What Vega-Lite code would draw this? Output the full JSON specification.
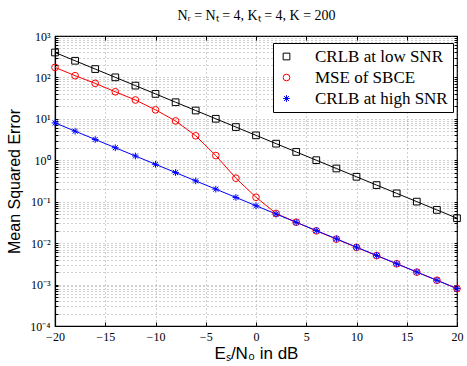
{
  "$schema": "https://vega.github.io/schema/vega-lite/v6.json",
  "width": 402,
  "height": 290,
  "autosize": "none",
  "padding": {"left": 55, "top": 36, "right": 10, "bottom": 40},
  "background": "white",
  "config": {
    "view": {"stroke": "black", "strokeWidth": 1.2},
    "axis": {
      "domainColor": "black", "domainWidth": 1.2, "tickColor": "black", "tickSize": -4, "tickWidth": 1,
      "labelFont": "Liberation Serif", "labelFontSize": 12, "labelColor": "black",
      "labelOverlap": false, "labelBound": false, "labelFlush": false,
      "gridColor": "#666", "gridDash": [1, 3], "gridWidth": 0.6,
      "titleFontWeight": "normal", "titleColor": "black"
    },
    "legend": {
      "title": null, "orient": "none", "legendX": 218, "legendY": 7,
      "fillColor": "white", "strokeColor": "black", "padding": 5,
      "labelFont": "Liberation Serif", "labelFontSize": 17, "labelColor": "black", "labelOffset": 20,
      "symbolSize": 45, "symbolStrokeWidth": 1, "rowPadding": 3, "labelBaseline": "middle"
    }
  },
  "resolve": {"axis": {"x": "independent", "y": "independent"}},
  "data": {"values": [
    {"snr": -20, "mse": 400, "series": "CRLB at low SNR"},
    {"snr": -18, "mse": 252.4, "series": "CRLB at low SNR"},
    {"snr": -16, "mse": 159.2, "series": "CRLB at low SNR"},
    {"snr": -14, "mse": 100.5, "series": "CRLB at low SNR"},
    {"snr": -12, "mse": 63.4, "series": "CRLB at low SNR"},
    {"snr": -10, "mse": 40, "series": "CRLB at low SNR"},
    {"snr": -8, "mse": 25.2, "series": "CRLB at low SNR"},
    {"snr": -6, "mse": 15.9, "series": "CRLB at low SNR"},
    {"snr": -4, "mse": 10.05, "series": "CRLB at low SNR"},
    {"snr": -2, "mse": 6.34, "series": "CRLB at low SNR"},
    {"snr": 0, "mse": 4, "series": "CRLB at low SNR"},
    {"snr": 2, "mse": 2.52, "series": "CRLB at low SNR"},
    {"snr": 4, "mse": 1.59, "series": "CRLB at low SNR"},
    {"snr": 6, "mse": 1.005, "series": "CRLB at low SNR"},
    {"snr": 8, "mse": 0.634, "series": "CRLB at low SNR"},
    {"snr": 10, "mse": 0.4, "series": "CRLB at low SNR"},
    {"snr": 12, "mse": 0.252, "series": "CRLB at low SNR"},
    {"snr": 14, "mse": 0.159, "series": "CRLB at low SNR"},
    {"snr": 16, "mse": 0.1005, "series": "CRLB at low SNR"},
    {"snr": 18, "mse": 0.0634, "series": "CRLB at low SNR"},
    {"snr": 20, "mse": 0.04, "series": "CRLB at low SNR"},
    {"snr": -20, "mse": 175, "series": "MSE of SBCE"},
    {"snr": -18, "mse": 110, "series": "MSE of SBCE"},
    {"snr": -16, "mse": 72, "series": "MSE of SBCE"},
    {"snr": -14, "mse": 45, "series": "MSE of SBCE"},
    {"snr": -12, "mse": 28.5, "series": "MSE of SBCE"},
    {"snr": -10, "mse": 16.5, "series": "MSE of SBCE"},
    {"snr": -8, "mse": 8.9, "series": "MSE of SBCE"},
    {"snr": -6, "mse": 3.9, "series": "MSE of SBCE"},
    {"snr": -4, "mse": 1.3, "series": "MSE of SBCE"},
    {"snr": -2, "mse": 0.37, "series": "MSE of SBCE"},
    {"snr": 0, "mse": 0.128, "series": "MSE of SBCE"},
    {"snr": 2, "mse": 0.052, "series": "MSE of SBCE"},
    {"snr": 4, "mse": 0.032, "series": "MSE of SBCE"},
    {"snr": 6, "mse": 0.0198, "series": "MSE of SBCE"},
    {"snr": 8, "mse": 0.0125, "series": "MSE of SBCE"},
    {"snr": 10, "mse": 0.0079, "series": "MSE of SBCE"},
    {"snr": 12, "mse": 0.005, "series": "MSE of SBCE"},
    {"snr": 14, "mse": 0.00318, "series": "MSE of SBCE"},
    {"snr": 16, "mse": 0.002, "series": "MSE of SBCE"},
    {"snr": 18, "mse": 0.00127, "series": "MSE of SBCE"},
    {"snr": 20, "mse": 0.0008, "series": "MSE of SBCE"},
    {"snr": -20, "mse": 8, "series": "CRLB at high SNR"},
    {"snr": -18, "mse": 5.05, "series": "CRLB at high SNR"},
    {"snr": -16, "mse": 3.18, "series": "CRLB at high SNR"},
    {"snr": -14, "mse": 2.01, "series": "CRLB at high SNR"},
    {"snr": -12, "mse": 1.27, "series": "CRLB at high SNR"},
    {"snr": -10, "mse": 0.8, "series": "CRLB at high SNR"},
    {"snr": -8, "mse": 0.505, "series": "CRLB at high SNR"},
    {"snr": -6, "mse": 0.318, "series": "CRLB at high SNR"},
    {"snr": -4, "mse": 0.201, "series": "CRLB at high SNR"},
    {"snr": -2, "mse": 0.127, "series": "CRLB at high SNR"},
    {"snr": 0, "mse": 0.08, "series": "CRLB at high SNR"},
    {"snr": 2, "mse": 0.0505, "series": "CRLB at high SNR"},
    {"snr": 4, "mse": 0.0318, "series": "CRLB at high SNR"},
    {"snr": 6, "mse": 0.0201, "series": "CRLB at high SNR"},
    {"snr": 8, "mse": 0.0127, "series": "CRLB at high SNR"},
    {"snr": 10, "mse": 0.008, "series": "CRLB at high SNR"},
    {"snr": 12, "mse": 0.00505, "series": "CRLB at high SNR"},
    {"snr": 14, "mse": 0.00318, "series": "CRLB at high SNR"},
    {"snr": 16, "mse": 0.00201, "series": "CRLB at high SNR"},
    {"snr": 18, "mse": 0.00127, "series": "CRLB at high SNR"},
    {"snr": 20, "mse": 0.0008, "series": "CRLB at high SNR"}
  ]},
  "encoding": {
    "color": {
      "field": "series", "type": "nominal",
      "scale": {"domain": ["CRLB at low SNR", "MSE of SBCE", "CRLB at high SNR"], "range": ["black", "red", "blue"]}
    }
  },
  "layer": [
    {
      "mark": {"type": "line", "strokeWidth": 1},
      "encoding": {
        "x": {
          "field": "snr", "type": "quantitative",
          "scale": {"domain": [-20, 20], "nice": false, "zero": false},
          "axis": {
            "orient": "bottom", "grid": true,
            "title": "Eₛ/N₀ in dB", "titleFont": "Liberation Sans", "titleFontSize": 17, "titleY": 32, "titleBaseline": "alphabetic",
            "values": [-20, -15, -10, -5, 0, 5, 10, 15, 20],
            "labelExpr": "datum.value < 0 ? '−' + abs(datum.value) : '' + datum.value",
            "labelPadding": 9
          }
        },
        "y": {
          "field": "mse", "type": "quantitative",
          "scale": {"type": "log", "domain": [0.0001, 1000], "nice": false},
          "axis": {
            "orient": "left", "grid": true,
            "title": "Mean Squared Error", "titleFont": "Liberation Sans", "titleFontSize": 16, "titleX": -41, "titleY": 145, "titleBaseline": "middle", "titleAngle": -90,
            "values": [0.0001,0.0002,0.0003,0.0004,0.0005,0.0006,0.0007,0.0008,0.0009,
                       0.001,0.002,0.003,0.004,0.005,0.006,0.007,0.008,0.009,
                       0.01,0.02,0.03,0.04,0.05,0.06,0.07,0.08,0.09,
                       0.1,0.2,0.3,0.4,0.5,0.6,0.7,0.8,0.9,
                       1,2,3,4,5,6,7,8,9,
                       10,20,30,40,50,60,70,80,90,
                       100,200,300,400,500,600,700,800,900,1000],
            "labelExpr": "abs(log(datum.value)/LN10 - round(log(datum.value)/LN10)) < 1e-6 ? '10' + ['⁻⁴','⁻³','⁻²','⁻¹','⁰','¹','²','³'][round(log(datum.value)/LN10) + 4] : ''",
            "labelPadding": 8,
            "tickSize": -3
          }
        }
      }
    },
    {
      "mark": {"type": "point", "filled": false, "strokeWidth": 1, "opacity": 1, "size": 45},
      "encoding": {
        "x": {
          "field": "snr", "type": "quantitative",
          "scale": {"domain": [-20, 20], "nice": false, "zero": false},
          "axis": {
            "orient": "top", "grid": false, "labels": false, "domain": false,
            "values": [-20, -15, -10, -5, 0, 5, 10, 15, 20],
            "title": "Nᵣ = Nₜ = 4, Kₜ = 4, K = 200", "titleFont": "Liberation Serif", "titleFontSize": 14,
            "titleY": -17, "titleBaseline": "alphabetic"
          }
        },
        "y": {
          "field": "mse", "type": "quantitative",
          "scale": {"type": "log", "domain": [0.0001, 1000], "nice": false},
          "axis": {
            "orient": "right", "grid": false, "labels": false, "domain": false, "title": null, "tickSize": -3,
            "values": [0.0001,0.0002,0.0003,0.0004,0.0005,0.0006,0.0007,0.0008,0.0009,
                       0.001,0.002,0.003,0.004,0.005,0.006,0.007,0.008,0.009,
                       0.01,0.02,0.03,0.04,0.05,0.06,0.07,0.08,0.09,
                       0.1,0.2,0.3,0.4,0.5,0.6,0.7,0.8,0.9,
                       1,2,3,4,5,6,7,8,9,
                       10,20,30,40,50,60,70,80,90,
                       100,200,300,400,500,600,700,800,900,1000]
          }
        },
        "shape": {
          "field": "series", "type": "nominal",
          "scale": {"domain": ["CRLB at low SNR", "MSE of SBCE", "CRLB at high SNR"], "range": ["square", "circle", "M-1,0L1,0M0,-1L0,1M-0.75,-0.75L0.75,0.75M-0.75,0.75L0.75,-0.75"]}
        }
      }
    }
  ]
}
